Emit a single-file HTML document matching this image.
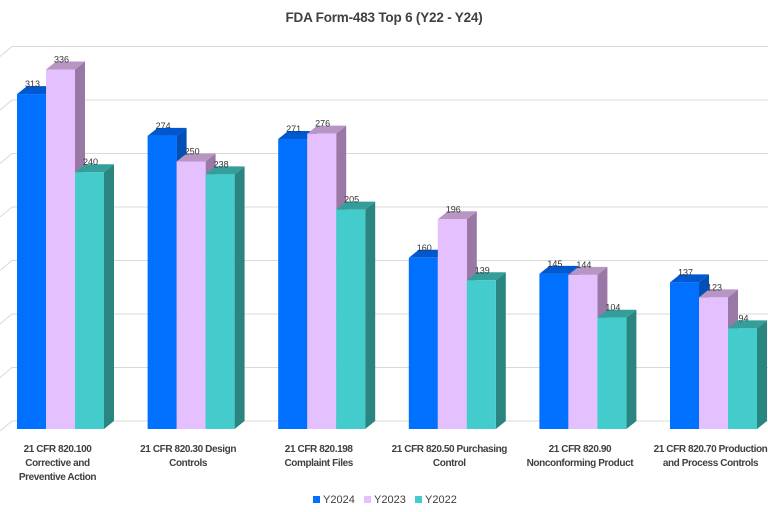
<!DOCTYPE html>
<html><head><meta charset="utf-8"><style>
html,body{margin:0;padding:0;background:#fff;}
svg{display:block;font-family:"Liberation Sans",sans-serif;}
</style></head><body>
<svg id="chart" width="768" height="512" viewBox="0 0 768 512">
<text x="384" y="22" text-anchor="middle" font-size="13.5" font-weight="bold" fill="#404040" letter-spacing="-0.2">FDA Form-483 Top 6 (Y22 - Y24)</text>
<g id="grid"></g>
<g id="bars"></g>
<g id="labels"></g>
<g id="legend"></g>
</svg>
<script>
const categories=[["21 CFR 820.100","Corrective and","Preventive Action"],["21 CFR 820.30 Design","Controls"],["21 CFR 820.198","Complaint Files"],["21 CFR 820.50 Purchasing","Control"],["21 CFR 820.90","Nonconforming Product"],["21 CFR 820.70 Production","and Process Controls"]];
const seriesNames=["Y2024","Y2023","Y2022"];
const y2024=[313,274,271,160,145,137];
const y2023=[336,250,276,196,144,123];
const y2022=[240,238,205,139,104,94];
const gridTicks=[0,50,100,150,200,250,300,350];
const series=[y2024,y2023,y2022];
const fronts=["#0070ff","#e5c0ff","#44cccc"],sides=["#0050b8","#9a78a6","#2a8580"],tops=["#0058d0","#b896c4","#339e9a"];
const NS="http://www.w3.org/2000/svg";
const base=429,scale=1.07,dx=10,dy=8,x0=17,gap=130.6,bw=29;
const yS=v=>base-v*scale;
function mk(t,a,p){const e=document.createElementNS(NS,t);for(const k in a)e.setAttribute(k,a[k]);p.appendChild(e);return e;}
const grid=document.getElementById('grid');
gridTicks.forEach(t=>{const y=yS(t)-dy;
const l=mk('polyline',{points:`0,${y+10} ${12},${y} 768,${y}`,fill:'none',stroke:'#d9d9d9','stroke-width':1},grid);

});
const bars=document.getElementById('bars');
categories.forEach((c,i)=>{series.forEach((s,j)=>{
const v=s[i],x=x0+i*gap+j*bw,y=yS(v);
const g=mk('g',{},bars);


mk('polygon',{points:`${x+bw},${y} ${x+bw+dx},${y-dy} ${x+bw+dx},${base-dy} ${x+bw},${base}`,fill:sides[j]},g);
mk('polygon',{points:`${x},${y} ${x+dx},${y-dy} ${x+bw+dx},${y-dy} ${x+bw},${y}`,fill:tops[j]},g);
mk('rect',{x:x,y:y,width:bw,height:base-y,fill:fronts[j]},g);
const t=mk('text',{x:x+bw/2+1,y:y-dy+1,'text-anchor':'middle','font-size':9,fill:'#333'},g);
t.textContent=v;


});
const cx=x0+i*gap+1.5*bw-3;
const lab=mk('text',{x:cx,'text-anchor':'middle','font-size':10,fill:'#404040','font-weight':'bold','letter-spacing':'-0.4'},document.getElementById('labels'));


c.forEach((ln,k)=>{const ts=mk('tspan',{x:cx,y:452+k*14},lab);ts.textContent=ln;});
});
const leg=document.getElementById('legend');
const lx=[313,364,415];
seriesNames.forEach((n,j)=>{const g=mk('g',{},leg);


mk('rect',{x:lx[j],y:496,width:7,height:7,fill:fronts[j]},g);
const t=mk('text',{x:lx[j]+10,y:503,'font-size':11,fill:'#404040'},g);t.textContent=n;});
</script>
</body></html>
